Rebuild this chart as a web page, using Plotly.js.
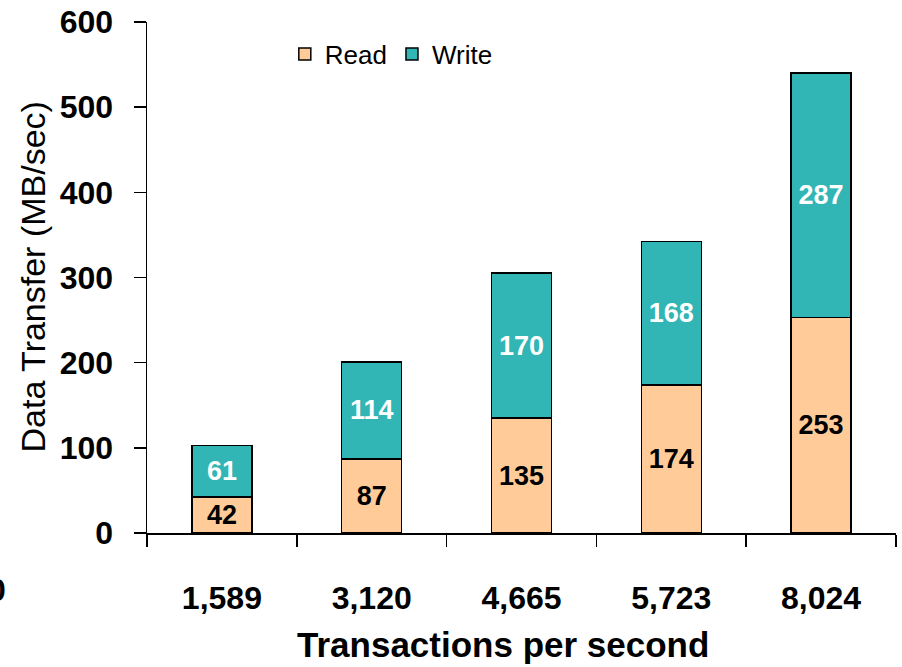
<!DOCTYPE html>
<html>
<head>
<meta charset="utf-8">
<script src="https://cdn.plot.ly/plotly-3.0.1.min.js"></script>
<style>html,body{margin:0;padding:0;background:#fff;}#chart{width:902px;height:667px;}</style>
</head>
<body>
<div id="chart"></div>
<script>
const categories = ['1,589', '3,120', '4,665', '5,723', '8,024'];
const readValues = [42, 87, 135, 174, 253];
const writeValues = [61, 114, 170, 168, 287];
const yTickVals = [0, 100, 200, 300, 400, 500, 600];

const FONT = 'Liberation Sans, Arial, sans-serif';

const traces = [
  {
    type: 'bar', name: 'Read', x: categories, y: readValues,
    text: readValues.map(String), textposition: 'inside', insidetextanchor: 'middle',
    constraintext: 'none',
    textfont: {family: FONT, size: 27, color: '#000', weight: 'bold'},
    marker: {color: '#FFCC99', line: {color: '#000', width: 1.5}},
    width: 0.4, hoverinfo: 'skip'
  },
  {
    type: 'bar', name: 'Write', x: categories, y: writeValues,
    text: writeValues.map(String), textposition: 'inside', insidetextanchor: 'middle',
    constraintext: 'none',
    textfont: {family: FONT, size: 27, color: '#fff', weight: 'bold'},
    marker: {color: '#31B5B5', line: {color: '#000', width: 1.5}},
    width: 0.4, hoverinfo: 'skip'
  }
];

const layout = {
  width: 902, height: 667,
  margin: {l: 147, r: 6, t: 22, b: 134},
  paper_bgcolor: '#fff', plot_bgcolor: '#fff',
  barmode: 'stack',
  font: {family: FONT, color: '#000'},
  showlegend: true,
  legend: {
    orientation: 'h', x: 0.184, y: 0.983, xanchor: 'left', yanchor: 'top',
    font: {family: FONT, size: 26, color: '#000'},
    bgcolor: 'rgba(0,0,0,0)', traceorder: 'normal', itemclick: false
  },
  xaxis: {
    type: 'category', showline: true, linecolor: '#000', linewidth: 1.5,
    ticks: 'outside', tickson: 'boundaries', ticklen: 12, tickcolor: '#000', tickwidth: 1.5,
    ticklabelstandoff: 36,
    tickfont: {family: FONT, size: 32, color: '#000', weight: 'bold'},
    showgrid: false, zeroline: false, fixedrange: true
  },
  yaxis: {
    range: [0, 600], tickvals: yTickVals, showline: true, linecolor: '#000', linewidth: 1.5,
    ticks: 'outside', ticklen: 12, tickcolor: '#000', tickwidth: 1.5,
    ticklabelstandoff: 14,
    tickfont: {family: FONT, size: 32, color: '#000', weight: 'bold'},
    showgrid: false, zeroline: false, fixedrange: true
  },
  annotations: [
    {text: 'Transactions per second', xref: 'paper', yref: 'paper', x: 0.475, y: -0.219,
     xanchor: 'center', yanchor: 'middle', showarrow: false,
     font: {family: FONT, size: 35, color: '#000', weight: 'bold'}},
    {text: 'Data Transfer (MB/sec)', xref: 'paper', yref: 'paper', x: -0.1535, y: 0.5,
     xanchor: 'center', yanchor: 'middle', textangle: -90, showarrow: false,
     font: {family: FONT, size: 34, color: '#000'}},
    {text: '0', xref: 'paper', yref: 'paper', x: -0.1856, y: -0.1115,
     xanchor: 'right', yanchor: 'middle', showarrow: false,
     font: {family: FONT, size: 32, color: '#000', weight: 'bold'}}
  ]
};

Plotly.newPlot('chart', traces, layout, {displayModeBar: false, staticPlot: true});
</script>
</body>
</html>
